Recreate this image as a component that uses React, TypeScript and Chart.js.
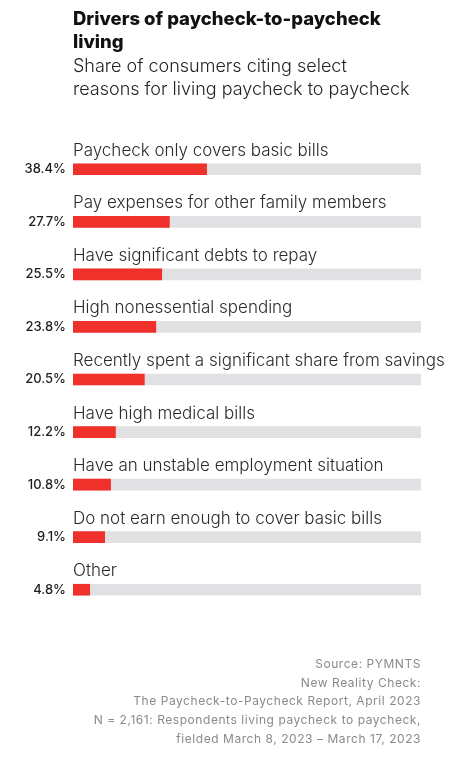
import { useEffect, useRef } from "react";
import { Chart, registerables } from "chart.js";
import type { Plugin } from "chart.js";

Chart.register(...registerables);

// Data
const reasons = [
  "Paycheck only covers basic bills",
  "Pay expenses for other family members",
  "Have significant debts to repay",
  "High nonessential spending",
  "Recently spent a significant share from savings",
  "Have high medical bills",
  "Have an unstable employment situation",
  "Do not earn enough to cover basic bills",
  "Other",
];
const shares = [38.4, 27.7, 25.5, 23.8, 20.5, 12.2, 10.8, 9.1, 4.8];
const track = reasons.map(() => 100);

const FONT = "Inter, 'Noto Sans', sans-serif";
const RED = "#f0302a";
const GREY = "#e1e1e3";

const sourceLines = [
  "Source: PYMNTS",
  "New Reality Check:",
  "The Paycheck-to-Paycheck Report, April 2023",
  "N = 2,161: Respondents living paycheck to paycheck,",
  "fielded March 8, 2023 \u2013 March 17, 2023",
];

// draws each reason above its bar
const reasonLabels: Plugin<"bar"> = {
  id: "reasonLabels",
  afterDatasetsDraw(chart) {
    const { ctx, chartArea } = chart;
    const meta = chart.getDatasetMeta(1);
    ctx.save();
    ctx.font = `300 17px ${FONT}`;
    ctx.fillStyle = "#2b2b2b";
    ctx.textAlign = "left";
    ctx.textBaseline = "alphabetic";
    meta.data.forEach((bar, i) => {
      ctx.fillText(reasons[i], chartArea.left, bar.y - 13.5);
    });
    ctx.restore();
  },
};

export default function App() {
  const canvasRef = useRef<HTMLCanvasElement>(null);

  useEffect(() => {
    if (!canvasRef.current) return;
    const chart = new Chart(canvasRef.current, {
      type: "bar",
      data: {
        labels: reasons,
        datasets: [
          {
            label: "Share",
            data: shares,
            backgroundColor: RED,
            barThickness: 11,
            grouped: false,
            order: 0,
          },
          {
            label: "Track",
            data: track,
            backgroundColor: GREY,
            barThickness: 11,
            grouped: false,
            order: 1,
          },
        ],
      },
      options: {
        indexAxis: "y",
        animation: false,
        responsive: false,
        maintainAspectRatio: false,
        events: [],
        layout: {
          padding: { top: 143, bottom: 148, left: 0, right: 47 },
        },
        scales: {
          x: { min: 0, max: 100, display: false },
          y: {
            grid: { display: false, drawTicks: false },
            border: { display: false },
            afterFit: (axis) => {
              axis.width = 73;
            },
            ticks: {
              padding: 7,
              color: "#1e1e1e",
              font: { family: FONT, size: 13, weight: 500 },
              callback: (_v, i) => shares[i].toFixed(1) + "%",
            },
          },
        },
        plugins: {
          legend: { display: false },
          tooltip: { enabled: false },
        },
      },
      plugins: [reasonLabels],
    });
    return () => chart.destroy();
  }, []);

  return (
    <div
      style={{
        position: "absolute",
        left: 0,
        top: 0,
        width: 468,
        height: 764,
        background: "#fff",
        fontFamily: FONT,
        overflow: "hidden",
      }}
    >
      <canvas
        ref={canvasRef}
        width={468}
        height={764}
        style={{ position: "absolute", left: 0, top: 0, width: 468, height: 764 }}
      />
      <div
        style={{
          position: "absolute",
          left: 73,
          top: 7,
          fontSize: 18.5,
          fontWeight: 800,
          lineHeight: "23px",
          color: "#111",
          width: 360,
        }}
      >
        Drivers of paycheck-to-paycheck
        <br />
        living
      </div>
      <div
        style={{
          position: "absolute",
          left: 73,
          top: 54,
          fontSize: 18,
          fontWeight: 300,
          lineHeight: "23px",
          color: "#222",
          width: 380,
        }}
      >
        Share of consumers citing select
        <br />
        reasons for living paycheck to paycheck
      </div>
      <div
        style={{
          position: "absolute",
          right: 47,
          top: 655,
          fontSize: 12,
          lineHeight: "18.7px",
          letterSpacing: 0.55,
          color: "#8a8a8a",
          textAlign: "right",
          whiteSpace: "nowrap",
        }}
      >
        {sourceLines.map((line) => (
          <div key={line}>{line}</div>
        ))}
      </div>
    </div>
  );
}
